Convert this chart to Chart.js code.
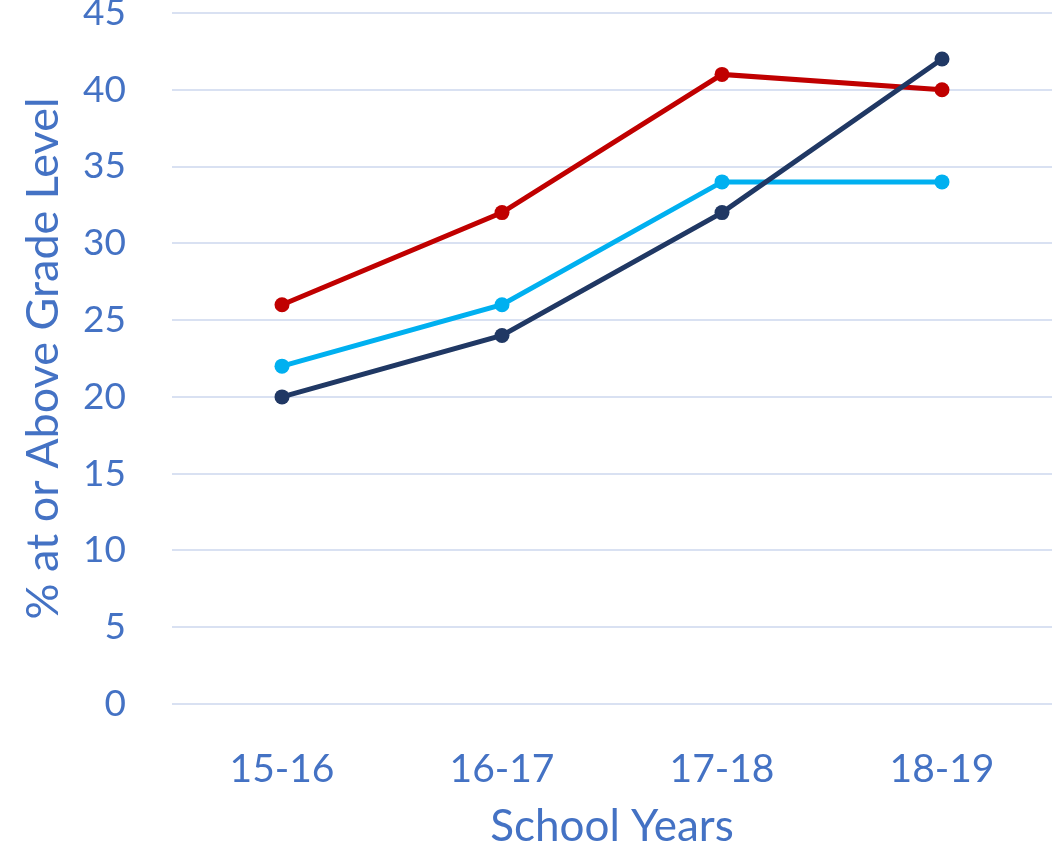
<!DOCTYPE html>
<html>
<head>
<meta charset="utf-8">
<script src="https://cdn.jsdelivr.net/npm/chart.js@4/dist/chart.umd.min.js"></script>
<style>
  html, body { margin: 0; padding: 0; background: #ffffff; }
  #wrap { width: 1061px; height: 853px; position: relative; }
</style>
</head>
<body>
<div id="wrap"><canvas id="chart"></canvas></div>
<script>
// School years on the x axis
const schoolYears = ['15-16', '16-17', '17-18', '18-19'];

// Percent of students at or above grade level, per group
const seriesRed = [26, 32, 41, 40];
const seriesLightBlue = [22, 26, 34, 34];
const seriesNavy = [20, 24, 32, 42];

const textColor = '#4472C4';
const gridColor = '#D9E1F2';
const fontFamily = 'Lato, "Open Sans", sans-serif';

function lineSet(data, color, order) {
  return {
    data: data,
    borderColor: color,
    backgroundColor: color,
    borderWidth: 5,
    pointRadius: 7.5,
    pointHoverRadius: 7.5,
    pointBorderWidth: 0,
    tension: 0,
    order: order
  };
}

new Chart(document.getElementById('chart'), {
  type: 'line',
  data: {
    labels: schoolYears,
    datasets: [
      lineSet(seriesRed, '#C00000', 2),
      lineSet(seriesLightBlue, '#00B0F0', 1),
      lineSet(seriesNavy, '#203864', 0)
    ]
  },
  options: {
    responsive: true,
    maintainAspectRatio: false,
    animation: false,
    layout: { padding: { top: 13, right: 9, left: 0, bottom: 0 } },
    plugins: { legend: { display: false }, tooltip: { enabled: false } },
    scales: {
      x: {
        offset: true,
        grid: { display: false, drawTicks: false },
        border: { display: false },
        ticks: { color: textColor, font: { family: fontFamily, size: 39 }, padding: 42 },
        title: { display: true, text: 'School Years', color: textColor, font: { family: fontFamily, size: 44 }, padding: { top: 4, bottom: 0 } },
        afterFit(scale) { scale.height = 149; scale.paddingLeft = 0; scale.paddingRight = 0; }
      },
      y: {
        min: 0,
        max: 45,
        ticks: { stepSize: 5, color: textColor, font: { family: fontFamily, size: 37 }, padding: 46 },
        grid: { color: gridColor, lineWidth: 2, drawTicks: false },
        border: { display: false },
        title: { display: true, text: '% at or Above Grade Level', color: textColor, font: { family: fontFamily, size: 45 }, padding: { top: 16, bottom: 0 } },
        afterFit(scale) { scale.width = 172; scale.paddingTop = 0; scale.paddingBottom = 0; }
      }
    }
  }
});
</script>
</body>
</html>
